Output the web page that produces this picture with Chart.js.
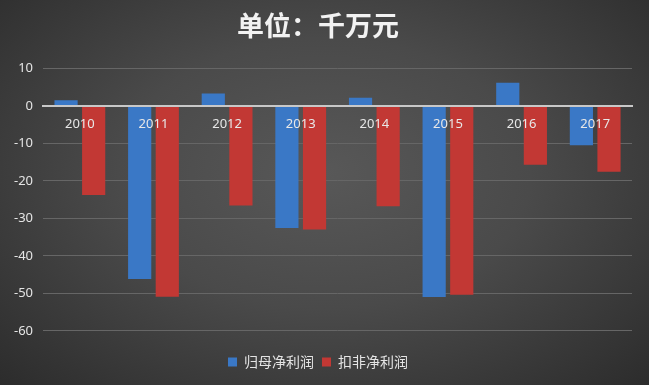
<!DOCTYPE html>
<html>
<head>
<meta charset="utf-8">
<script src="https://cdn.jsdelivr.net/npm/chart.js@4.4.1/dist/chart.umd.min.js"></script>
<style>
html,body{margin:0;padding:0;}
body{width:649px;height:385px;overflow:hidden;background:radial-gradient(ellipse at 50% 45%, #585858 0%, #4a4a4a 45%, #2c2c2c 100%);}
#wrap{position:relative;width:649px;height:385px;}
</style>
</head>
<body>
<div id="wrap"><canvas id="c" width="649" height="385"></canvas></div>
<script>
const categories = ['2010','2011','2012','2013','2014','2015','2016','2017'];
const seriesNames = ['归母净利润','扣非净利润'];
const guimu = [1.5, -46.2, 3.3, -32.6, 2.2, -51.0, 6.2, -10.5];
const koufei = [-23.8, -50.9, -26.6, -33.0, -26.8, -50.4, -15.7, -17.6];
const yTicks = [10, 0, -10, -20, -30, -40, -50, -60];

new Chart(document.getElementById('c'), {
  type: 'bar',
  data: {
    labels: categories,
    datasets: [
      {label: seriesNames[0], data: guimu, backgroundColor: '#3a78c6', borderWidth: 0},
      {label: seriesNames[1], data: koufei, backgroundColor: '#c23834', borderWidth: 0}
    ]
  },
  options: {
    responsive: false,
    animation: false,
    devicePixelRatio: 1,
    layout: {padding: {left: 4, right: 17, top: 4, bottom: 6}},
    datasets: {bar: {categoryPercentage: 0.75, barPercentage: 0.84}},
    scales: {
      x: {
        position: {y: 0},
        grid: {display: false, drawTicks: false},
        border: {display: true, color: '#c8c8c8', width: 2, z: 1},
        ticks: {color: '#e8e8e8', font: {family: 'Noto Sans', size: 13}, padding: 11, z: 1}
      },
      y: {
        min: -60, max: 10,
        afterBuildTicks: (s) => { s.ticks = yTicks.map(v => ({value: v})); },
        grid: {color: '#666666', lineWidth: 1, drawTicks: false},
        border: {display: false},
        ticks: {color: '#e4e4e4', font: {family: 'Noto Sans', size: 13}, padding: 10}
      }
    },
    plugins: {
      title: {
        display: true,
        text: '单位：千万元',
        color: '#f2f2f2',
        font: {family: 'Noto Sans CJK SC', size: 27, weight: 'bold'},
        padding: {top: 6, bottom: 26}
      },
      legend: {
        position: 'bottom',
        title: {display: true, text: ' ', font: {size: 1}, padding: {top: 8, bottom: 7}},
        labels: {
          color: '#e4e4e4',
          font: {family: 'Noto Sans CJK SC', size: 14},
          boxWidth: 9, boxHeight: 9, padding: 8
        }
      },
      tooltip: {enabled: false}
    }
  }
});
</script>
</body>
</html>
